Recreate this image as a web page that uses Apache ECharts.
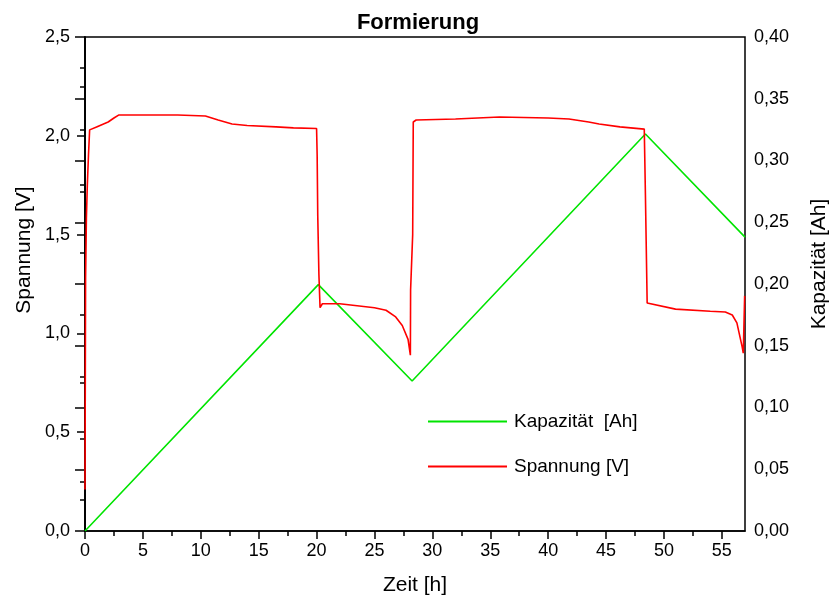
<!DOCTYPE html>
<html>
<head>
<meta charset="utf-8">
<script src="https://cdn.jsdelivr.net/npm/echarts@6/dist/echarts.min.js"></script>
<style>html,body{margin:0;padding:0;background:#fff;}#chart{width:836px;height:598px;}</style>
</head>
<body>
<div id="chart"></div>
<script>
const titleText = 'Formierung';
const xAxisName = 'Zeit [h]';
const yLeftName = 'Spannung [V]';
const yRightName = 'Kapazität [Ah]';
const seriesNames = ['Kapazität  [Ah]', 'Spannung [V]'];

const xMajorTicks = [0, 5, 10, 15, 20, 25, 30, 35, 40, 45, 50, 55];
const xMinorTicks = [2.5, 7.5, 12.5, 17.5, 22.5, 27.5, 32.5, 37.5, 42.5, 47.5, 52.5];

// Kapazität (right axis)
const capTime = [0, 20.15, 28.25, 48.4, 57];
const capValue = [0, 0.1995, 0.1215, 0.3215, 0.238];

// Spannung (left axis)
const voltTime = [0, 0.05, 0.12, 0.2, 0.3, 0.4, 1.0, 2.0, 2.5, 2.9, 5, 8, 10.4, 11.5, 12.7, 14, 16.5, 18, 20.0,
  20.05, 20.1, 20.2, 20.3, 20.5, 22, 23.5, 25, 26, 26.8, 27.4, 27.9, 28.1,
  28.12, 28.3, 28.35, 28.6, 32, 35.8, 40, 41.8, 43.5, 44.4, 46.2, 48.3,
  48.4, 48.55, 51, 54, 55.3, 55.9, 56.3, 56.75, 56.85, 56.97];
const voltValue = [0.21, 1.28, 1.58, 1.75, 1.9, 2.03, 2.045, 2.07, 2.09, 2.105, 2.105, 2.105, 2.1, 2.08, 2.06, 2.052, 2.045, 2.04, 2.037,
  1.9, 1.6, 1.3, 1.13, 1.15, 1.15, 1.14, 1.13, 1.117, 1.085, 1.04, 0.97, 0.89,
  1.22, 1.5, 2.07, 2.08, 2.085, 2.095, 2.09, 2.085, 2.07, 2.06, 2.045, 2.034,
  1.7, 1.154, 1.123, 1.112, 1.108, 1.093, 1.053, 0.933, 0.9, 1.19];

const capData = capTime.map((t, i) => [t, capValue[i]]);
const voltData = voltTime.map((t, i) => [t, voltValue[i]]);

const chart = echarts.init(document.getElementById('chart'), null, {renderer: 'canvas'});
const FONT = '"Liberation Sans", Arial, sans-serif';
const axisLineStyle = {color: '#000', width: 1.5};

chart.setOption({
  backgroundColor: '#fff',
  animation: false,
  title: {
    text: titleText, left: 'center', top: 7,
    textStyle: {fontFamily: FONT, fontSize: 22, fontWeight: 'bold', color: '#000'}
  },
  legend: {
    orient: 'vertical', left: 423, top: 407,
    itemWidth: 79, itemHeight: 2, itemGap: 26,
    icon: 'rect',
    textStyle: {fontFamily: FONT, fontSize: 19, color: '#000', padding: [0, 0, 0, 2]},
    data: seriesNames
  },
  graphic: [
    {type: 'text', x: 24, y: 250, rotation: Math.PI / 2,
     style: {text: yLeftName, font: '21px ' + FONT, fill: '#000', textAlign: 'center', textVerticalAlign: 'middle'}},
    {type: 'text', x: 819, y: 264, rotation: Math.PI / 2,
     style: {text: yRightName, font: '21px ' + FONT, fill: '#000', textAlign: 'center', textVerticalAlign: 'middle'}},
    {type: 'text', x: 415, y: 585,
     style: {text: xAxisName, font: '21px ' + FONT, fill: '#000', textAlign: 'center', textVerticalAlign: 'middle'}}
  ],
  grid: {
    left: 85, right: 91, top: 37, bottom: 67,
    show: true, borderColor: '#000', borderWidth: 1.5, backgroundColor: 'transparent'
  },
  xAxis: [{
    type: 'value', min: 0, max: 57, position: 'bottom',
    axisLine: {show: true, lineStyle: axisLineStyle},
    axisTick: {show: true, length: 8, customValues: xMajorTicks, lineStyle: axisLineStyle},
    axisLabel: {customValues: xMajorTicks, margin: 11, fontFamily: FONT, fontSize: 18, color: '#000'},
    splitLine: {show: false}
  }, {
    type: 'value', min: 0, max: 57, position: 'bottom',
    axisLine: {show: false},
    axisTick: {show: true, length: 5, customValues: xMinorTicks, lineStyle: axisLineStyle},
    axisLabel: {show: false},
    splitLine: {show: false}
  }],
  yAxis: [{
    type: 'value', min: 0, max: 2.5, interval: 0.5, position: 'left',
    axisLine: {show: true, lineStyle: axisLineStyle},
    axisTick: {show: true, length: 8, lineStyle: axisLineStyle},
    minorTick: {show: true, splitNumber: 2, length: 5, lineStyle: axisLineStyle},
    axisLabel: {margin: 15, fontFamily: FONT, fontSize: 18, color: '#000',
      formatter: v => v.toFixed(1).replace('.', ',')},
    splitLine: {show: false}
  }, {
    type: 'value', min: 0, max: 0.4, interval: 0.05, position: 'right',
    axisLine: {show: true, lineStyle: axisLineStyle},
    axisTick: {show: true, inside: true, length: 10, lineStyle: axisLineStyle},
    minorTick: {show: true, splitNumber: 2, length: 5, lineStyle: axisLineStyle},
    axisLabel: {margin: 9, fontFamily: FONT, fontSize: 18, color: '#000',
      formatter: v => v.toFixed(2).replace('.', ',')},
    splitLine: {show: false}
  }],
  series: [{
    name: seriesNames[0], type: 'line', xAxisIndex: 0, yAxisIndex: 1,
    data: capData, symbol: 'none', showSymbol: false,
    lineStyle: {color: '#00e400', width: 1.6}, itemStyle: {color: '#00e400'}
  }, {
    name: seriesNames[1], type: 'line', xAxisIndex: 0, yAxisIndex: 0,
    data: voltData, symbol: 'none', showSymbol: false,
    lineStyle: {color: '#ff0000', width: 1.6}, itemStyle: {color: '#ff0000'}
  }]
});
</script>
</body>
</html>
